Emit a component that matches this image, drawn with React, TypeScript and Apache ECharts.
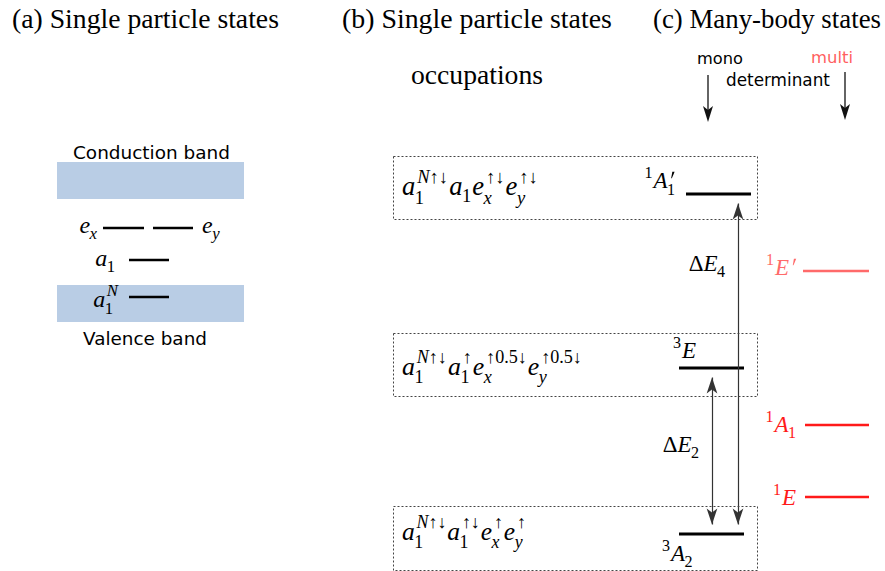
import React, { useEffect, useRef } from "react";
import * as echarts from "echarts";

const W = 885;
const H = 571;

// ---------------- data ----------------
const panelTitles = ["(a) Single particle states", "(b) Single particle states", "(c) Many-body states"];

// many-body states: schematic energies above the ^3A_2 ground state (arbitrary units)
const stateKeys = ["3A2", "1E", "1A1", "3E", "1E'", "1A1'"];
const stateEnergies = [0, 37, 109, 166, 263, 340];
const stateCharacter = ["mono", "multi", "multi", "mono", "multi", "mono"];

// single-particle defect orbitals (arbitrary units above valence-band bottom)
const orbitalKeys = ["a1N", "a1", "ex", "ey"];
const orbitalEnergies = [25, 62, 94, 94];
const bandNames = ["Valence band", "Conduction band"];
const bandBottom = [0, 123];
const bandTop = [37, 160];

// excitations drawn as double arrows
const transitionNames = ["ΔE2", "ΔE4"];
const transitionFrom = ["3A2", "3A2"];
const transitionTo = ["3E", "1A1'"];

// occupations of the mono-determinant states
const occupationStates = ["1A1'", "3E", "3A2"];

type Atom = { b?: string; sub?: string; sup?: string; prime?: boolean };
const occupationLabels: Atom[][] = [
  [{ b: "a", sub: "1", sup: "N↑↓" }, { b: "a", sub: "1" }, { b: "e", sub: "x", sup: "↑↓" }, { b: "e", sub: "y", sup: "↑↓" }],
  [{ b: "a", sub: "1", sup: "N↑↓" }, { b: "a", sub: "1", sup: "↑" }, { b: "e", sub: "x", sup: "↑0.5↓" }, { b: "e", sub: "y", sup: "↑0.5↓" }],
  [{ b: "a", sub: "1", sup: "N↑↓" }, { b: "a", sub: "1", sup: "↑↓" }, { b: "e", sub: "x", sup: "↑" }, { b: "e", sub: "y", sup: "↑" }],
];
const stateLabels: Record<string, Atom[]> = {
  "3A2": [{ sup: "3" }, { b: "A", sub: "2" }],
  "1E": [{ sup: "1" }, { b: "E" }],
  "1A1": [{ sup: "1" }, { b: "A", sub: "1" }],
  "3E": [{ sup: "3" }, { b: "E" }],
  "1E'": [{ sup: "1" }, { b: "E", prime: true }],
  "1A1'": [{ sup: "1" }, { b: "A", sub: "1", prime: true }],
};
const orbitalLabels: Record<string, Atom[]> = {
  a1N: [{ b: "a", sub: "1", sup: "N" }],
  a1: [{ b: "a", sub: "1" }],
  ex: [{ b: "e", sub: "x" }],
  ey: [{ b: "e", sub: "y" }],
};
const transitionLabels: Record<string, Atom[]> = {
  "ΔE2": [{ b: "ΔE", sub: "2" }],
  "ΔE4": [{ b: "ΔE", sub: "4" }],
};

// ---------------- layout / style ----------------
const SERIF = '"Liberation Serif", "DejaVu Serif", serif';
const SANS = '"DejaVu Sans", "Liberation Sans", sans-serif';
const K = 0.34; // central-baseline to alphabetic-baseline, in em
const ZT = 20;

const stateLayout: Record<string, { x: [number, number]; color: string; anchor: "left" | "right"; dx: number; dy: number }> = {
  "3A2": { x: [679, 744], color: "#000", anchor: "left", dx: -17, dy: 27 },
  "3E": { x: [679, 744], color: "#000", anchor: "left", dx: -6, dy: -10 },
  "1A1'": { x: [686, 751], color: "#000", anchor: "right", dx: -10, dy: -6 },
  "1E": { x: [805, 869], color: "#ff1a1a", anchor: "right", dx: -9, dy: 8 },
  "1A1": { x: [805, 869], color: "#ff1a1a", anchor: "right", dx: -8, dy: 7 },
  "1E'": { x: [803, 869], color: "#ff6a6a", anchor: "right", dx: -7, dy: 4 },
};
const orbitalLayout: Record<string, { x: [number, number]; anchor: "left" | "right"; dx: number; dy: number }> = {
  a1N: { x: [129, 169], anchor: "right", dx: -10, dy: 10 },
  a1: { x: [129, 169], anchor: "right", dx: -13, dy: 6 },
  ex: { x: [103, 144], anchor: "right", dx: -5, dy: 5 },
  ey: { x: [153, 193], anchor: "left", dx: 9, dy: 5 },
};
const bandX: [number, number] = [57, 244];
const transitionLayout: Record<string, { x: number; labelE: number }> = {
  "ΔE2": { x: 712, labelE: 82 },
  "ΔE4": { x: 738, labelE: 263 },
};
const occupationBox: Record<string, [number, number]> = {
  "1A1'": [156, 219],
  "3E": [333, 396],
  "3A2": [506, 570],
};
const occupationTargets: Record<string, [number, number, number]> = {
  // left, width, baseline
  "1A1'": [402, 137, 195],
  "3E": [402, 181, 375],
  "3A2": [402, 125, 540],
};
const ARROW_H = 16;
const LABEL_SIZE = 23;

// ---------------- text helpers ----------------
let mctx: CanvasRenderingContext2D | null = null;
function measure(t: string, font: string) {
  if (!mctx) mctx = document.createElement("canvas").getContext("2d");
  mctx!.font = font;
  return mctx!.measureText(t).width;
}
function runs(s: string) {
  const out: { t: string; it: boolean }[] = [];
  for (const ch of s) {
    const it = /[A-Za-z]/.test(ch);
    const last = out[out.length - 1];
    if (last && last.it === it) last.t += ch;
    else out.push({ t: ch, it });
  }
  return out;
}
const mfont = (it: boolean, size: number) => `${it ? "italic " : ""}${size}px ${SERIF}`;

function textEl(t: string, x: number, baseline: number, size: number, family: string, color: string, italic = false) {
  return {
    type: "text",
    x,
    y: baseline - K * size,
    z: ZT,
    silent: true,
    style: {
      text: t,
      fontSize: size,
      fontFamily: family,
      fontStyle: italic ? "italic" : "normal",
      fill: color,
      align: "left",
      verticalAlign: "middle",
    },
  };
}
function fitText(t: string, family: string, left: number, right: number, baseline: number, color = "#000") {
  const size = (20 * (right - left)) / measure(t, `20px ${family}`);
  return textEl(t, left, baseline, size, family, color);
}

type Item = { t: string; it: boolean; dx: number; dy: number; s: number; prime?: boolean };
function layoutMath(atoms: Atom[], size: number) {
  const items: Item[] = [];
  let cx = 0;
  const ss = size * 0.7;
  for (const a of atoms) {
    let baseItalic = false;
    if (a.b) {
      for (const r of runs(a.b)) {
        items.push({ t: r.t, it: r.it, dx: cx, dy: 0, s: size });
        cx += measure(r.t, mfont(r.it, size));
        baseItalic = r.it;
      }
    }
    if (a.sup || a.sub || a.prime) {
      const both = !!((a.sup || a.prime) && a.sub);
      let wSup = 0;
      let wSub = 0;
      if (a.prime) {
        items.push({ t: "", it: false, dx: cx + 0.06 * size, dy: 0, s: size, prime: true });
        wSup = 0.26 * size;
      }
      if (a.sup) {
        let sx = cx + (baseItalic ? 0.07 * size : 0);
        for (const r of runs(a.sup)) {
          items.push({ t: r.t, it: r.it, dx: sx, dy: -(both ? 0.47 : 0.42) * size, s: ss });
          sx += measure(r.t, mfont(r.it, ss));
        }
        wSup = sx - cx;
      }
      if (a.sub) {
        let sx = cx - (baseItalic ? 0.02 * size : 0);
        for (const r of runs(a.sub)) {
          items.push({ t: r.t, it: r.it, dx: sx, dy: (both ? 0.32 : 0.24) * size, s: ss });
          sx += measure(r.t, mfont(r.it, ss));
        }
        wSub = sx - cx;
      }
      cx += Math.max(wSup, wSub) + 0.04 * size;
    }
  }
  return { items, width: cx };
}
function mathEls(atoms: Atom[], x: number, baseline: number, size: number, color: string, anchor: "left" | "right" = "left") {
  const { items, width } = layoutMath(atoms, size);
  const x0 = anchor === "right" ? x - width : x;
  return items.map((it) => {
    if (it.prime) {
      const px0 = x0 + it.dx;
      const s = it.s;
      return {
        type: "polygon",
        z: ZT,
        silent: true,
        shape: {
          points: [
            [px0 + 0.1 * s, baseline - 0.42 * s],
            [px0 + 0.15 * s, baseline - 0.71 * s],
            [px0 + 0.25 * s, baseline - 0.71 * s],
            [px0 + 0.13 * s, baseline - 0.42 * s],
          ],
        },
        style: { fill: color },
      };
    }
    return textEl(it.t, x0 + it.dx, baseline + it.dy, it.s, SERIF, color, it.it);
  });
}
function fitMath(atoms: Atom[], left: number, width: number, baseline: number, color = "#000") {
  const w20 = layoutMath(atoms, 20).width;
  return mathEls(atoms, left, baseline, (20 * width) / w20, color);
}
function downArrow(x: number, y1: number, y2: number, color: string) {
  return [
    { type: "line", z: ZT, silent: true, shape: { x1: x, y1, x2: x, y2: y2 - 8 }, style: { stroke: color, lineWidth: 1.3 } },
    {
      type: "polygon",
      z: ZT,
      silent: true,
      shape: { points: [[x, y2], [x - 5, y2 - ARROW_H], [x, y2 - 12], [x + 5, y2 - ARROW_H]] },
      style: { fill: color },
    },
  ];
}

// ---------------- option ----------------
function buildOption() {
  const energyOf = (k: string) => stateEnergies[stateKeys.indexOf(k)];
  const series: any[] = [];

  series.push({
    type: "custom",
    xAxisIndex: 0,
    yAxisIndex: 1,
    silent: true,
    z: 1,
    data: bandNames.map((_, i) => [bandX[0], bandX[1], bandBottom[i], bandTop[i]]),
    renderItem: (_p: any, api: any) => {
      const a = api.coord([api.value(0), api.value(3)]);
      const b = api.coord([api.value(1), api.value(2)]);
      return { type: "rect", shape: { x: a[0], y: a[1], width: b[0] - a[0], height: b[1] - a[1] }, style: { fill: "#b9cde5" } };
    },
  });

  orbitalKeys.forEach((k, i) => {
    const L = orbitalLayout[k];
    series.push({
      type: "line",
      xAxisIndex: 0,
      yAxisIndex: 1,
      silent: true,
      z: 3,
      symbol: "none",
      lineStyle: { color: "#000", width: 2.4 },
      data: [[L.x[0], orbitalEnergies[i]], [L.x[1], orbitalEnergies[i]]],
    });
  });

  stateKeys.forEach((k, i) => {
    const L = stateLayout[k];
    series.push({
      type: "line",
      name: k + " (" + stateCharacter[i] + ")",
      xAxisIndex: 0,
      yAxisIndex: 0,
      silent: true,
      z: 3,
      symbol: "none",
      lineStyle: { color: L.color, width: stateCharacter[i] === "mono" ? 2.8 : 2.4 },
      data: [[L.x[0], stateEnergies[i]], [L.x[1], stateEnergies[i]]],
    });
  });

  const inset = ARROW_H / 2 + 1.5;
  series.push({
    type: "lines",
    coordinateSystem: "cartesian2d",
    xAxisIndex: 0,
    yAxisIndex: 0,
    silent: true,
    z: 4,
    symbol: ["arrow", "arrow"],
    symbolSize: [[8, ARROW_H], [8, ARROW_H]],
    lineStyle: { color: "#333", width: 1.2, opacity: 1, curveness: 0 },
    data: transitionNames.map((n, i) => {
      const x = transitionLayout[n].x;
      return { coords: [[x, energyOf(transitionFrom[i]) + inset], [x, energyOf(transitionTo[i]) - inset]] };
    }),
  });

  return {
    animation: false,
    backgroundColor: "#ffffff",
    grid: { left: 0, right: 0, top: 0, bottom: 0 },
    xAxis: { type: "value", min: 0, max: W, show: false },
    yAxis: [
      { type: "value", min: -37, max: 534, show: false },
      { type: "value", min: -249, max: 322, show: false },
    ],
    series,
  };
}

function buildGraphics(chart: any) {
  const els: any[] = [];
  const px = (x: number, e: number, yi = 0) => chart.convertToPixel({ xAxisIndex: 0, yAxisIndex: yi }, [x, e]) as number[];

  // titles
  els.push(fitText(panelTitles[0], SERIF, 12, 279, 28));
  els.push(fitText(panelTitles[1], SERIF, 342, 612, 28));
  els.push(fitText(panelTitles[2], SERIF, 653, 881, 28));
  els.push(fitText("occupations", SERIF, 411, 543, 84));

  // column headers
  els.push(fitText("mono", SANS, 697, 743, 64));
  els.push(fitText("determinant", SANS, 726, 830, 86));
  els.push(fitText("multi", SANS, 811, 853, 63, "#ff5f5f"));
  els.push(...downArrow(708, 75, 122, "#111"));
  els.push(...downArrow(845, 72, 120, "#111"));

  // bands
  const vb = px(bandX[0], bandBottom[0], 1);
  const cb = px(bandX[0], bandTop[1], 1);
  els.push(fitText(bandNames[1], SANS, 73, 230, cb[1] - 3));
  els.push(fitText(bandNames[0], SANS, 83, 207, vb[1] + 23));

  // orbital labels
  orbitalKeys.forEach((k, i) => {
    const L = orbitalLayout[k];
    const p = px(L.anchor === "right" ? L.x[0] : L.x[1], orbitalEnergies[i], 1);
    els.push(...mathEls(orbitalLabels[k], p[0] + L.dx, p[1] + L.dy, 24, "#000", L.anchor));
  });

  // occupation boxes + labels
  occupationStates.forEach((k, j) => {
    const [t, b] = occupationBox[k];
    els.push({
      type: "rect",
      z: ZT,
      silent: true,
      shape: { x: 393.5, y: t + 0.5, width: 364, height: b - t },
      style: { fill: "none", stroke: "#444", lineWidth: 1, lineDash: [2, 2] },
    });
    const [l, w, bl] = occupationTargets[k];
    els.push(...fitMath(occupationLabels[j], l, w, bl));
  });

  // state labels
  stateKeys.forEach((k, i) => {
    const L = stateLayout[k];
    const p = px(L.x[0], stateEnergies[i], 0);
    els.push(...mathEls(stateLabels[k], p[0] + L.dx, p[1] + L.dy, LABEL_SIZE, L.color, L.anchor));
  });

  // transition labels
  transitionNames.forEach((n) => {
    const T = transitionLayout[n];
    const p = px(T.x, T.labelE, 0);
    els.push(...mathEls(transitionLabels[n], p[0] - 12, p[1], LABEL_SIZE, "#000", "right"));
  });

  return els;
}

export default function App() {
  const ref = useRef<HTMLDivElement>(null);
  useEffect(() => {
    const el = ref.current!;
    const chart = echarts.init(el, null, { renderer: "svg", width: W, height: H });
    chart.setOption(buildOption());
    chart.setOption({ graphic: buildGraphics(chart) });
    return () => chart.dispose();
  }, []);
  return <div ref={ref} style={{ position: "fixed", left: 0, top: 0, width: W, height: H, background: "#fff" }} />;
}
